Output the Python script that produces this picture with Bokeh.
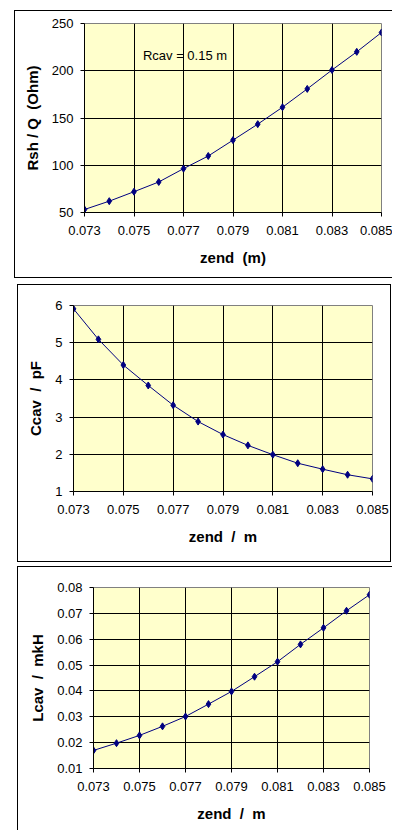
from bokeh.plotting import figure
from bokeh.models import FixedTicker, PrintfTickFormatter, Label, Range1d
from bokeh.embed import file_html
from bokeh.resources import INLINE

# ---- data ----
zend = [0.073, 0.074, 0.075, 0.076, 0.077, 0.078, 0.079,
        0.080, 0.081, 0.082, 0.083, 0.084, 0.085]
rsh_q = [53.2, 62.0, 72.0, 82.3, 96.4, 109.8, 126.6,
         143.5, 161.4, 180.8, 200.8, 220.0, 240.5]
ccav = [5.91, 5.09, 4.40, 3.85, 3.32, 2.88, 2.53,
        2.24, 1.99, 1.76, 1.60, 1.45, 1.34]
lcav = [0.0170, 0.0198, 0.0228, 0.0263, 0.0301, 0.0349, 0.0398,
        0.0455, 0.0513, 0.0580, 0.0644, 0.0710, 0.0772]

x_ticks = [0.073, 0.075, 0.077, 0.079, 0.081, 0.083, 0.085]
rsh_ticks = [50, 100, 150, 200, 250]
ccav_ticks = [1, 2, 3, 4, 5, 6]
lcav_ticks = [0.01, 0.02, 0.03, 0.04, 0.05, 0.06, 0.07, 0.08]

note_text = "Rcav = 0.15 m"
note_x = 0.07536
note_y = 216

FONT = "Liberation Sans"
NAVY = "#000080"
NB = "\u00a0"


def make_panel(y, yticks, yfmt, ylabel, xlabel, width, height,
               mb_left, mb_right, mb_top, mb_bottom, margin, styles):
    p = figure(width=width, height=height, output_backend="svg",
               toolbar_location=None,
               x_range=Range1d(x_ticks[0], x_ticks[-1]),
               y_range=Range1d(yticks[0], yticks[-1]),
               min_border_left=mb_left, min_border_right=mb_right,
               min_border_top=mb_top, min_border_bottom=mb_bottom,
               background_fill_color="#FFFFCC", border_fill_color="white",
               margin=margin, styles=styles)
    p.outline_line_color = "#808080"
    p.outline_line_width = 1

    p.xaxis.ticker = FixedTicker(ticks=x_ticks)
    p.yaxis.ticker = FixedTicker(ticks=yticks)
    p.xaxis.formatter = PrintfTickFormatter(format="%.3f")
    p.yaxis.formatter = PrintfTickFormatter(format=yfmt)

    for ax in (p.xaxis, p.yaxis):
        ax.axis_line_color = "black"
        ax.axis_line_width = 1
        ax.major_tick_line_color = "black"
        ax.major_tick_out = 4
        ax.major_tick_in = 0
        ax.minor_tick_line_color = None
        ax.major_label_text_font = FONT
        ax.major_label_text_font_size = "13px"
        ax.major_label_text_color = "black"
        ax.axis_label_text_font = FONT
        ax.axis_label_text_font_size = "15px"
        ax.axis_label_text_font_style = "bold"
        ax.axis_label_text_color = "black"

    p.xaxis.major_label_standoff = 9
    p.yaxis.major_label_standoff = 7
    p.xaxis.axis_label_standoff = 11
    p.yaxis.axis_label_standoff = 8
    p.xaxis.axis_label = xlabel
    p.yaxis.axis_label = ylabel

    p.xgrid.ticker = FixedTicker(ticks=x_ticks)
    p.ygrid.ticker = FixedTicker(ticks=yticks)
    p.grid.grid_line_color = "black"
    p.grid.grid_line_width = 1
    p.grid.grid_line_alpha = 1

    p.line(zend, y, line_color=NAVY, line_width=1)
    p.scatter(zend, y, marker="diamond", size=7, color=NAVY)
    return p


p1 = make_panel(rsh_q, rsh_ticks, "%d", "Rsh / Q" + NB + NB + "(Ohm)",
                "zend" + NB + NB + "(m)", 378, 268,
                69, 12, 12, 67, (10, 0, 0, 14),
                {"border-left": "1px solid black", "border-top": "1px solid black",
                 "border-bottom": "1px solid black"})
p1.add_layout(Label(x=note_x, y=note_y, text=note_text, text_font=FONT,
                    text_font_size="13px", text_baseline="middle",
                    text_color="black"))

p2 = make_panel(ccav, ccav_ticks, "%d", "Ccav" + NB + NB + "/" + NB + NB + "pF",
                "zend" + NB + NB + "/" + NB + NB + "m", 374, 278,
                55, 20, 20, 72, (6, 0, 0, 17),
                {"border": "1px solid black"})

p3 = make_panel(lcav, lcav_ticks, "%.2f", "Lcav" + NB + NB + "/" + NB + NB + "mkH",
                "zend" + NB + NB + "/" + NB + NB + "m", 375, 264,
                75, 24, 20, 63, (4, 0, 0, 17),
                {"border-left": "1px solid black", "border-top": "1px solid black"})

with open("out.html", "w") as f:
    f.write(file_html([p1, p2, p3], INLINE))
